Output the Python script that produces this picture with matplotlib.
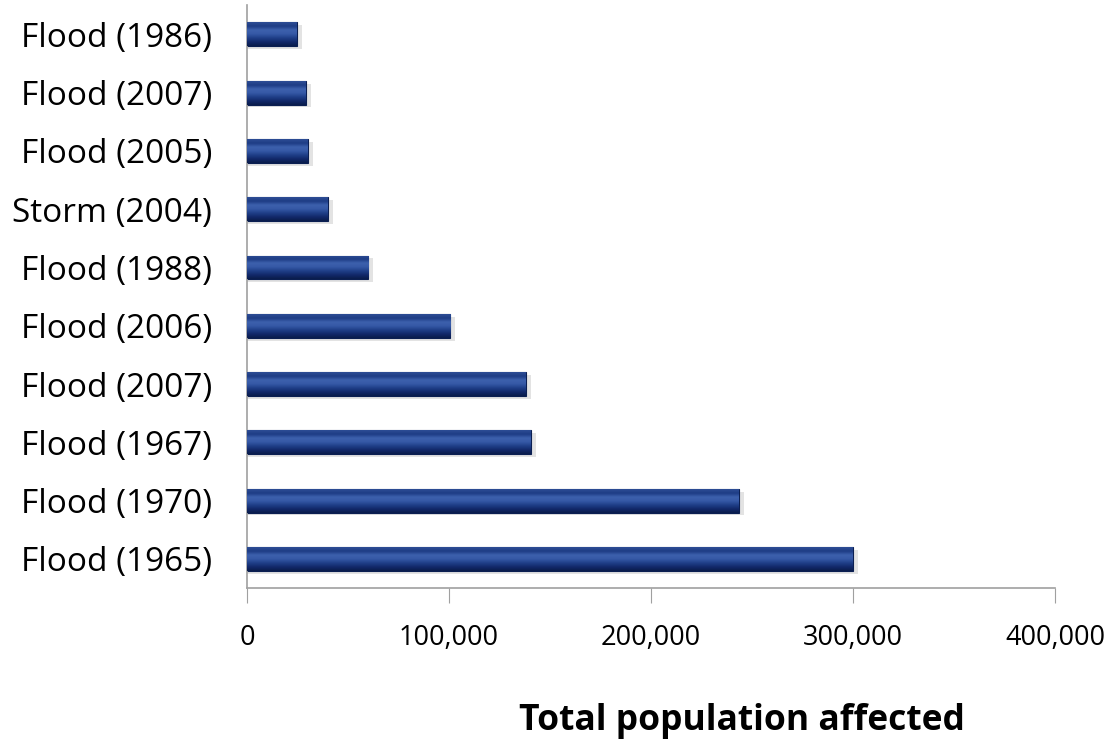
import numpy as np
import matplotlib
matplotlib.use("Agg")
import matplotlib.pyplot as plt
from matplotlib.colors import LinearSegmentedColormap
from matplotlib.ticker import FuncFormatter

# data, bottom to top as drawn
eventos = ["Flood (1965)", "Flood (1970)", "Flood (1967)", "Flood (2007)", "Flood (2006)",
           "Flood (1988)", "Storm (2004)", "Flood (2005)", "Flood (2007)", "Flood (1986)"]
afectados = [300000, 243500, 140500, 138000, 100500, 60000, 40000, 30000, 29200, 24700]

plt.rcParams['font.family'] = ['Open Sans', 'DejaVu Sans']

fig = plt.figure(figsize=(11.18, 7.43), dpi=100)
ax = fig.add_axes([0.221, 0.2086, 0.7227, 0.7844])

y = np.arange(len(eventos))
barras = ax.barh(y, afectados, height=0.41, color='#1c3a82', edgecolor='#0b1f52',
                 linewidth=0.8, zorder=2)

# relleno degradado para imitar el bisel de Excel
grad = LinearSegmentedColormap.from_list(
    "bisel", ["#0a1c4c", "#12296a", "#1f3f88", "#3558a6", "#3d61ad", "#1e3d85", "#2d4d95"])
g = np.linspace(0, 1, 64).reshape(-1, 1)
for b in barras:
    x0, y0 = b.get_x(), b.get_y()
    w, h = b.get_width(), b.get_height()
    # sombra suave
    ax.barh(y0 + h / 2 - 0.05, w + 2500, height=h, left=x0, color='#c8c8c8',
            alpha=0.5, zorder=1)
    im = ax.imshow(g, cmap=grad, aspect='auto', extent=(x0, x0 + w, y0, y0 + h),
                   origin='lower', zorder=3, interpolation='bilinear')
    im.set_clip_path(b)

ax.set_yticks(y)
ax.set_yticklabels(eventos, fontsize=24)
ax.set_ylim(-0.5, len(eventos) - 0.5)
ax.set_xlim(0, 400000)
ax.set_xticks([0, 100000, 200000, 300000, 400000])
ax.xaxis.set_major_formatter(FuncFormatter(lambda v, p: f"{int(v):,}"))
ax.tick_params(axis='x', labelsize=19.5, length=11, color='#a0a0a0', pad=15)
ax.tick_params(axis='y', length=0, pad=25)

for s in ['top', 'right']:
    ax.spines[s].set_visible(False)
for s in ['left', 'bottom']:
    ax.spines[s].set_color('#a0a0a0')
    ax.spines[s].set_linewidth(1.2)

fig.text(0.664, 0.0296, "Total population affected", fontsize=25.5, fontweight='bold',
         ha='center', va='center')

fig.savefig("out.png", dpi=100, facecolor='white')
